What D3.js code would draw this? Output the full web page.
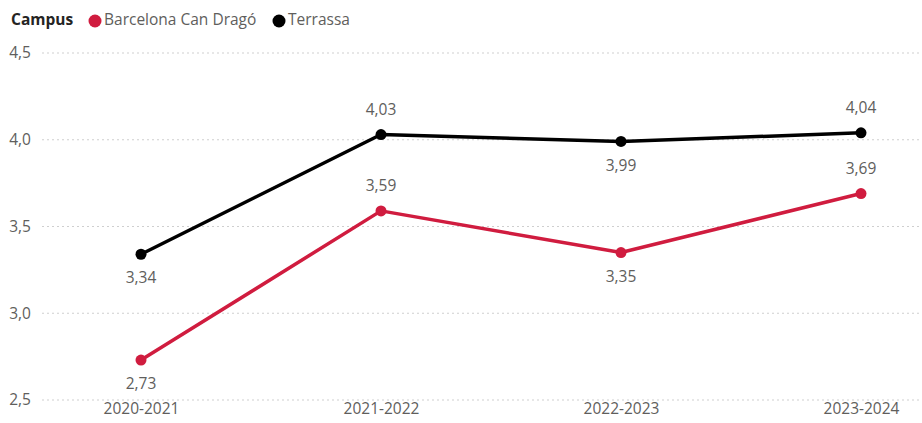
<!DOCTYPE html>
<html><head><meta charset="utf-8">
<script src="https://cdn.jsdelivr.net/npm/d3@7"></script>
<style>body{margin:0;background:#fff;}svg{display:block;font-family:"Segoe UI","Open Sans",sans-serif;}</style>
</head><body><svg id="c" width="922" height="423"></svg>
<script>
const categories = ["2020-2021","2021-2022","2022-2023","2023-2024"];
const seriesNames = ["Barcelona Can Dragó","Terrassa"];
const barcelona = [2.73, 3.59, 3.35, 3.69];
const terrassa = [3.34, 4.03, 3.99, 4.04];
const barcelonaLabelPos = ["below","above","below","above"];
const terrassaLabelPos = ["below","above","below","above"];
const yTicks = [2.5, 3.0, 3.5, 4.0, 4.5];
const colors = ["#D01C3F", "#000000"];

const FS = 15.5;
const svg = d3.select("#c");
const x = d3.scalePoint().domain(categories).range([141, 861]).padding(0);
const y = d3.scaleLinear().domain([2.5, 4.5]).range([400, 53]);
const fmt = (v, d) => v.toFixed(d).replace(".", ",");

// gridlines
svg.append("g").selectAll("line").data(yTicks).join("line")
  .attr("x1", 42).attr("x2", 920)
  .attr("y1", d => y(d)).attr("y2", d => y(d))
  .attr("stroke", "#cfcfcf").attr("stroke-width", 1).attr("stroke-dasharray", "2,3");

// y axis labels
const yAxis = d3.axisLeft(y).tickValues(yTicks).tickSize(0).tickPadding(0).tickFormat(d => fmt(d, 1));
svg.append("g").attr("transform", "translate(31,0)").call(yAxis)
  .call(g => g.select(".domain").remove())
  .call(g => g.selectAll("text").attr("fill", "#605E5C").attr("font-size", FS)
     .attr("font-family", "'Segoe UI','Open Sans',sans-serif"));

// x axis labels
const xAxis = d3.axisBottom(x).tickSize(0).tickPadding(0);
svg.append("g").attr("transform", "translate(0,403)").call(xAxis)
  .call(g => g.select(".domain").remove())
  .call(g => g.selectAll("text").attr("fill", "#605E5C").attr("font-size", FS)
     .attr("font-family", "'Segoe UI','Open Sans',sans-serif"));

const series = [
  {name: seriesNames[0], values: barcelona, pos: barcelonaLabelPos, color: colors[0]},
  {name: seriesNames[1], values: terrassa, pos: terrassaLabelPos, color: colors[1]}
];
const line = d3.line().x((d,i) => x(categories[i])).y(d => y(d));
series.forEach(s => {
  svg.append("path").datum(s.values).attr("d", line)
    .attr("fill", "none").attr("stroke", s.color).attr("stroke-width", 3.5).attr("stroke-linejoin", "round");
  svg.append("g").selectAll("circle").data(s.values).join("circle")
    .attr("cx", (d,i) => x(categories[i])).attr("cy", d => y(d)).attr("r", 5.5).attr("fill", s.color);
  svg.append("g").selectAll("text").data(s.values).join("text")
    .attr("x", (d,i) => x(categories[i]))
    .attr("y", (d,i) => y(d) + (s.pos[i] === "above" ? -24 : 25))
    .attr("text-anchor", "middle").attr("dominant-baseline", "middle")
    .attr("fill", "#605E5C").attr("font-size", FS)
    .text(d => fmt(d, 2));
});

// legend
const lg = svg.append("g").attr("transform", "translate(11,21)");
lg.append("text").attr("x", 0).attr("y", 0).attr("dominant-baseline", "middle")
  .attr("font-weight", "bold").attr("font-size", FS).attr("fill", "#252423").text("Campus");
const item1 = lg.append("g").attr("transform", "translate(77,0)");
item1.append("circle").attr("cx", 7).attr("cy", 0).attr("r", 6.5).attr("fill", colors[0]);
item1.append("text").attr("x", 16).attr("y", 0).attr("dominant-baseline", "middle")
  .attr("font-size", FS).attr("fill", "#605E5C").text(seriesNames[0]);
const item2 = lg.append("g").attr("transform", "translate(261,0)");
item2.append("circle").attr("cx", 7).attr("cy", 0).attr("r", 6.5).attr("fill", colors[1]);
item2.append("text").attr("x", 16).attr("y", 0).attr("dominant-baseline", "middle")
  .attr("font-size", FS).attr("fill", "#605E5C").text(seriesNames[1]);
</script></body></html>
